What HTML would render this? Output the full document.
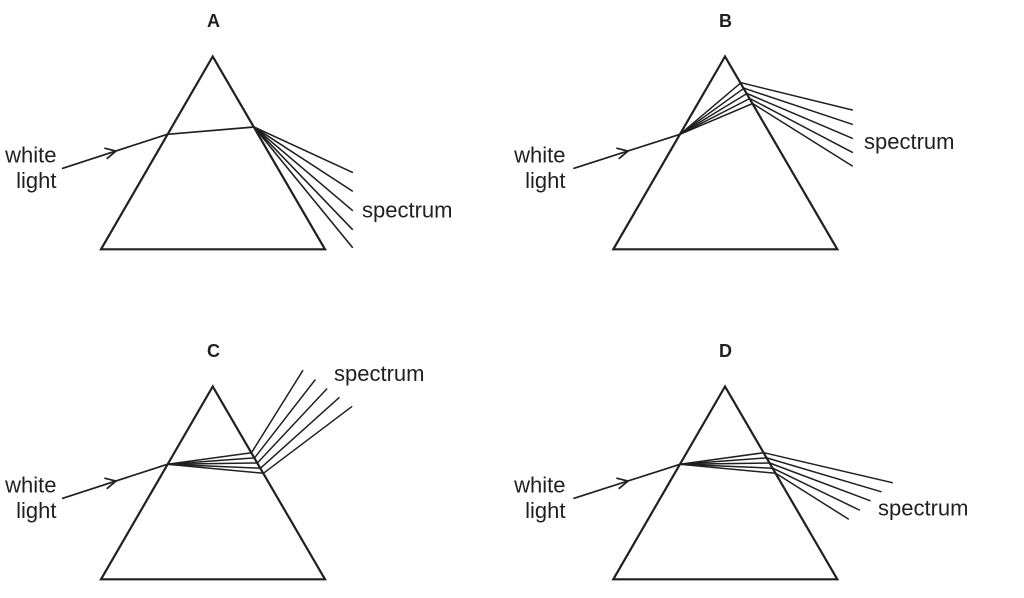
<!DOCTYPE html>
<html>
<head>
<meta charset="utf-8">
<style>
html,body{margin:0;padding:0;background:#fff;}
svg{display:block;}
text{font-family:"Liberation Sans",Arial,sans-serif;fill:#231f20;}
</style>
</head>
<body>
<svg width="1024" height="598" viewBox="0 0 1024 598" xmlns="http://www.w3.org/2000/svg">
<g stroke="#231f20" fill="none" stroke-linecap="round" stroke-linejoin="miter">

<!-- A -->
<polygon points="212.7,56.5 101,249.3 325,249.3" stroke-width="2.2"/>
<line x1="62.7" y1="168.3" x2="167.3" y2="134.3" stroke-width="1.7"/>
<polyline points="105,148.3 116,151 107.3,158.3" stroke-width="1.7"/>
<line x1="167.3" y1="134.3" x2="254" y2="127" stroke-width="1.7"/>
<g stroke-width="1.6">
<line x1="254" y1="127" x2="352.3" y2="172.3"/>
<line x1="254" y1="127" x2="352.3" y2="191"/>
<line x1="254" y1="127" x2="352.3" y2="210.3"/>
<line x1="254" y1="127" x2="352.3" y2="229.3"/>
<line x1="254" y1="127" x2="352.3" y2="247.3"/>
</g>

<!-- B -->
<polygon points="725,56.5 613.3,249.3 837.3,249.3" stroke-width="2.2"/>
<line x1="574" y1="168.3" x2="680" y2="134.3" stroke-width="1.7"/>
<polyline points="617,148.3 628,151 619.3,158.3" stroke-width="1.7"/>
<g stroke-width="1.5">
<line x1="680" y1="134.3" x2="741" y2="82.7"/>
<line x1="680" y1="134.3" x2="744" y2="88.2"/>
<line x1="680" y1="134.3" x2="747" y2="93.5"/>
<line x1="680" y1="134.3" x2="749.8" y2="98.5"/>
<line x1="680" y1="134.3" x2="752.7" y2="103.5"/>
<line x1="741" y1="82.7" x2="852.3" y2="110"/>
<line x1="744" y1="88.2" x2="852.3" y2="124.3"/>
<line x1="747" y1="93.5" x2="852.3" y2="138.3"/>
<line x1="749.8" y1="98.5" x2="852.3" y2="152.3"/>
<line x1="752.7" y1="103.5" x2="852.3" y2="166"/>
</g>

<!-- C -->
<polygon points="212.7,386.5 101,579.3 325,579.3" stroke-width="2.2"/>
<line x1="62.7" y1="498.3" x2="167.3" y2="464.3" stroke-width="1.7"/>
<polyline points="105,478.3 116,481 107.3,488.3" stroke-width="1.7"/>
<g stroke-width="1.5">
<line x1="167.3" y1="464.3" x2="251.5" y2="452.7"/>
<line x1="167.3" y1="464.3" x2="254.5" y2="457.9"/>
<line x1="167.3" y1="464.3" x2="257.4" y2="463"/>
<line x1="167.3" y1="464.3" x2="260.5" y2="468.2"/>
<line x1="167.3" y1="464.3" x2="263.4" y2="473.3"/>
<line x1="251.5" y1="452.7" x2="302.7" y2="370.7"/>
<line x1="254.5" y1="457.9" x2="315" y2="380"/>
<line x1="257.4" y1="463" x2="326.7" y2="389"/>
<line x1="260.5" y1="468.2" x2="339" y2="397.7"/>
<line x1="263.4" y1="473.3" x2="351.7" y2="406.7"/>
</g>

<!-- D -->
<polygon points="725,386.5 613.3,579.3 837.3,579.3" stroke-width="2.2"/>
<line x1="574" y1="498.3" x2="680" y2="464.3" stroke-width="1.7"/>
<polyline points="617,478.3 628,481 619.3,488.3" stroke-width="1.7"/>
<g stroke-width="1.5">
<line x1="680" y1="464.3" x2="763.8" y2="452.7"/>
<line x1="680" y1="464.3" x2="766.8" y2="457.9"/>
<line x1="680" y1="464.3" x2="769.7" y2="463"/>
<line x1="680" y1="464.3" x2="772.8" y2="468.2"/>
<line x1="680" y1="464.3" x2="775.7" y2="473.3"/>
<line x1="763.8" y1="452.7" x2="892.3" y2="482.7"/>
<line x1="766.8" y1="457.9" x2="881" y2="491.7"/>
<line x1="769.7" y1="463" x2="870" y2="500.7"/>
<line x1="772.8" y1="468.2" x2="859.3" y2="510"/>
<line x1="775.7" y1="473.3" x2="848.3" y2="519"/>
</g>
</g>

<!-- Labels -->
<g font-weight="bold" font-size="18" text-anchor="middle">
<text x="213.5" y="27">A</text>
<text x="725.5" y="27">B</text>
<text x="213.5" y="357">C</text>
<text x="725.5" y="357">D</text>
</g>

<g font-size="22">
<text x="56.5" y="162.5" text-anchor="end">white</text>
<text x="56.5" y="188" text-anchor="end">light</text>
<text x="362" y="217.5">spectrum</text>

<text x="565.5" y="162.5" text-anchor="end">white</text>
<text x="565.5" y="188" text-anchor="end">light</text>
<text x="864" y="149">spectrum</text>

<text x="56.5" y="492.5" text-anchor="end">white</text>
<text x="56.5" y="518" text-anchor="end">light</text>
<text x="334" y="381">spectrum</text>

<text x="565.5" y="492.5" text-anchor="end">white</text>
<text x="565.5" y="518" text-anchor="end">light</text>
<text x="878" y="515.5">spectrum</text>
</g>
</svg>
</body>
</html>
